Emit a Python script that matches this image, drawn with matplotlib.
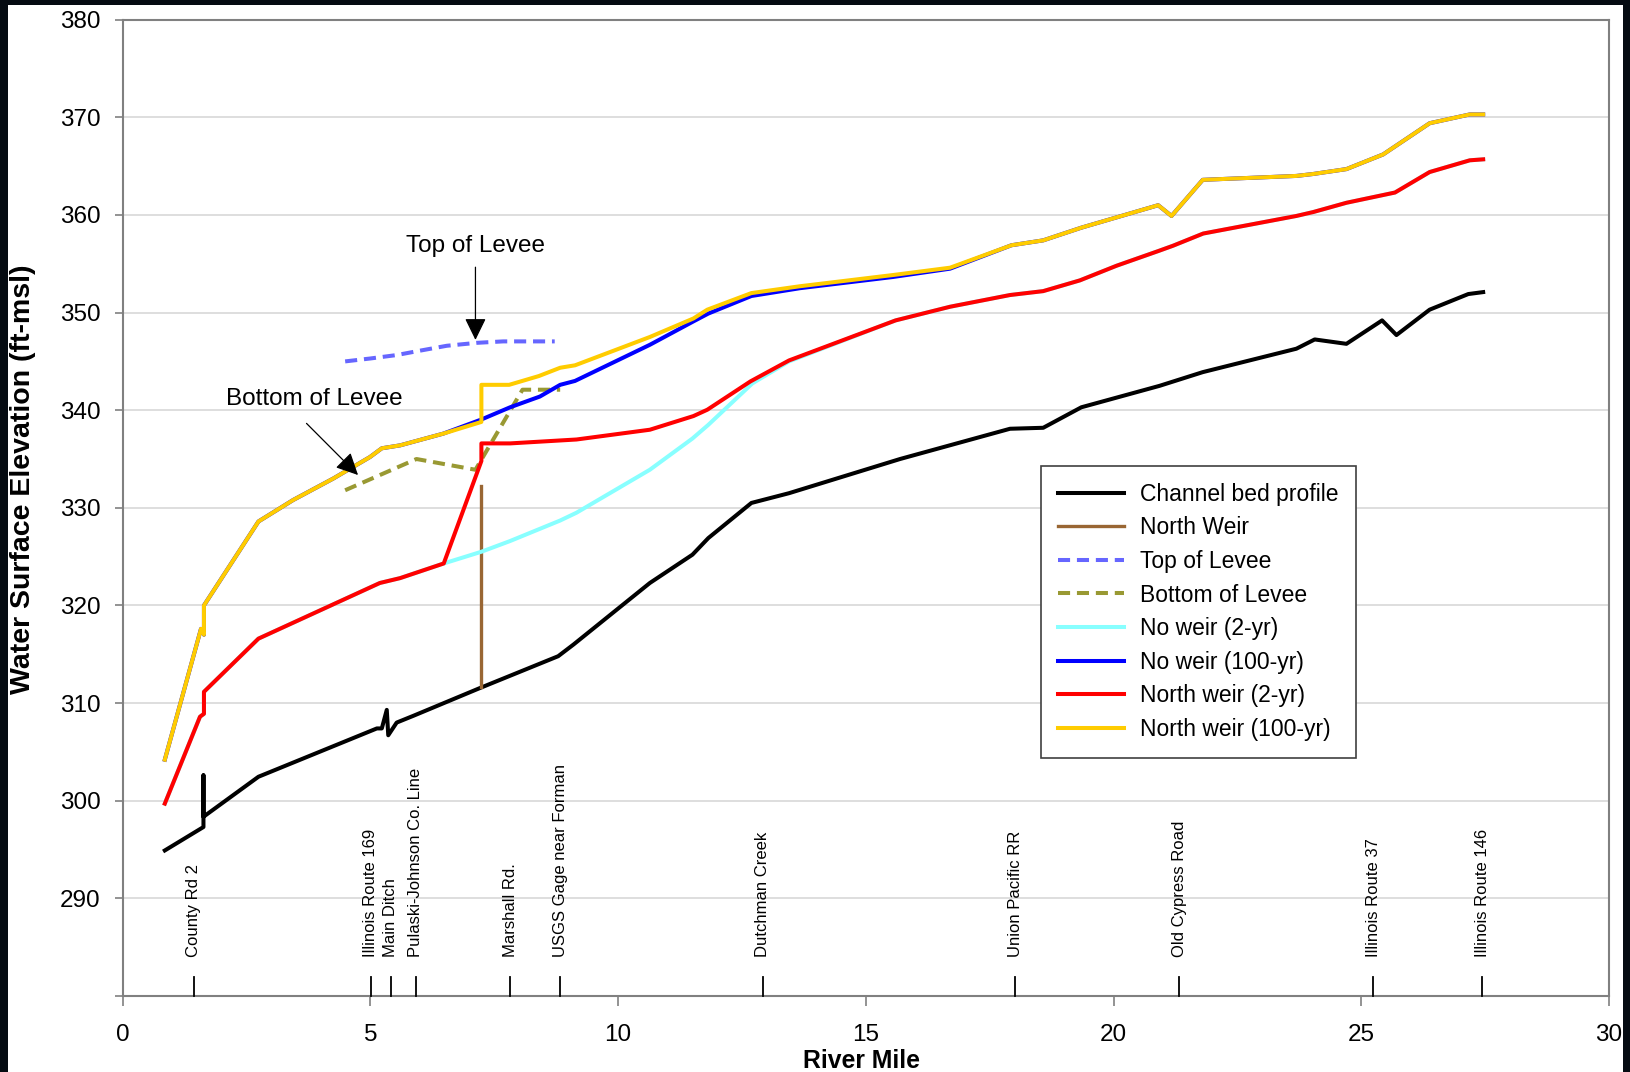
import matplotlib
matplotlib.use("Agg")
import matplotlib.pyplot as plt
from matplotlib.patches import Rectangle

plt.rcParams['font.family'] = ['Liberation Sans', 'DejaVu Sans']

# ---------------- data ----------------
bed_x = [0.85, 1.63, 1.63, 1.63, 2.74, 5.13, 5.23, 5.33, 5.36, 5.53, 5.87, 7.24, 8.79, 9.10,
         10.64, 11.50, 11.82, 12.69, 13.45, 15.69, 17.91, 18.58, 19.35, 20.93, 21.80, 23.69,
         24.06, 24.70, 25.42, 25.71, 26.38, 27.16, 27.46]
bed_y = [294.9, 297.3, 302.6, 298.35, 302.45, 307.4, 307.4, 309.3, 306.7, 308.0, 308.7, 311.6,
         314.8, 316.0, 322.3, 325.2, 326.9, 330.5, 331.5, 335.0, 338.1, 338.2, 340.3, 342.5,
         343.9, 346.3, 347.25, 346.8, 349.2, 347.7, 350.3, 351.9, 352.1]

weir_x = [7.24, 7.24]
weir_y = [311.6, 332.2]

top_levee_x = [4.49, 5.0, 5.53, 6.0, 6.54, 7.14, 7.68, 8.72]
top_levee_y = [345.0, 345.3, 345.65, 346.1, 346.6, 346.9, 347.05, 347.05]

bot_levee_x = [4.49, 5.93, 7.12, 8.07, 8.83]
bot_levee_y = [331.8, 335.0, 333.9, 342.1, 342.1]

nw2_x = [0.85, 1.56, 1.64, 1.64, 2.74, 5.19, 5.60, 6.48, 7.24, 7.82, 8.83, 9.16, 10.64, 11.50,
         11.82, 12.71, 13.45, 15.60, 16.70, 17.91, 18.58, 19.32, 20.06, 20.90, 21.20, 21.81,
         23.69, 24.03, 24.70, 25.68, 26.38, 27.19, 27.46]
nw2_y = [299.7, 308.6, 308.9, 311.15, 316.6, 322.3, 322.8, 324.3, 325.5, 326.6, 328.7, 329.5,
         333.9, 337.1, 338.5, 342.75, 345.0, 349.2, 350.6, 351.8, 352.2, 353.3, 354.8, 356.3,
         356.85, 358.1, 359.9, 360.3, 361.25, 362.3, 364.4, 365.6, 365.7]

n2_x = [0.85, 1.56, 1.64, 1.64, 2.74, 5.19, 5.60, 6.48, 7.24, 7.24, 7.82, 9.16, 10.64, 11.52,
        11.80, 12.67, 13.45, 15.60, 16.70, 17.91, 18.58, 19.32, 20.06, 20.90, 21.20, 21.81,
        23.69, 24.03, 24.70, 25.68, 26.38, 27.19, 27.46]
n2_y = [299.7, 308.6, 308.9, 311.15, 316.6, 322.3, 322.8, 324.3, 334.8, 336.6, 336.6, 337.0,
        338.0, 339.4, 340.05, 342.95, 345.1, 349.2, 350.6, 351.8, 352.2, 353.3, 354.8, 356.3,
        356.85, 358.1, 359.9, 360.3, 361.25, 362.3, 364.4, 365.6, 365.7]

nw100_x = [0.85, 1.58, 1.64, 1.64, 2.74, 3.44, 4.25, 4.99, 5.23, 5.60, 6.47, 7.24, 7.82, 8.42,
           8.83, 9.13, 10.64, 11.52, 11.82, 12.69, 13.67, 15.55, 16.70, 17.94, 18.58, 19.35,
           20.90, 21.17, 21.80, 23.69, 24.03, 24.70, 25.44, 26.38, 27.19, 27.46]
nw100_y = [304.2, 317.6, 317.0, 320.0, 328.6, 330.8, 333.0, 335.2, 336.1, 336.4, 337.6, 339.05,
           340.3, 341.4, 342.6, 343.0, 346.7, 349.1, 349.9, 351.7, 352.5, 353.65, 354.5, 356.9,
           357.4, 358.7, 361.0, 359.9, 363.6, 364.0, 364.2, 364.7, 366.2, 369.4, 370.3, 370.3]

n100_x = [0.85, 1.58, 1.64, 1.64, 2.74, 3.44, 4.25, 4.99, 5.23, 5.60, 6.47, 7.24, 7.24, 7.80,
          8.40, 8.83, 9.13, 10.64, 11.52, 11.80, 12.69, 13.67, 15.55, 16.70, 17.94, 18.58,
          19.35, 20.90, 21.17, 21.80, 23.69, 24.03, 24.70, 25.44, 26.38, 27.19, 27.46]
n100_y = [304.2, 317.6, 317.0, 320.0, 328.6, 330.8, 333.0, 335.2, 336.1, 336.4, 337.6, 338.8,
          342.6, 342.6, 343.5, 344.35, 344.6, 347.5, 349.4, 350.3, 352.0, 352.7, 353.85, 354.6,
          356.9, 357.4, 358.7, 361.0, 359.9, 363.6, 364.0, 364.2, 364.7, 366.2, 369.4, 370.3,
          370.3]

landmark_names = ["County Rd 2", "Illinois Route 169", "Main Ditch", "Pulaski-Johnson Co. Line",
                  "Marshall Rd.", "USGS Gage near Forman", "Dutchman Creek", "Union Pacific RR",
                  "Old Cypress Road", "Illinois Route 37", "Illinois Route 146"]
landmark_miles = [1.43, 5.01, 5.41, 5.92, 7.82, 8.83, 12.92, 18.02, 21.33, 25.24, 27.44]

x_ticks = [0, 5, 10, 15, 20, 25, 30]
y_ticks = [280, 290, 300, 310, 320, 330, 340, 350, 360, 370, 380]
y_ticklabels = ["", "290", "300", "310", "320", "330", "340", "350", "360", "370", "380"]

# ---------------- figure ----------------
W, H = 1630, 1072
fig = plt.figure(figsize=(W / 100, H / 100), dpi=100, facecolor='#050b12')
bg = Rectangle((8 / W, 0), (1623 - 8) / W, 1 - 5 / H, transform=fig.transFigure,
               facecolor='white', edgecolor='none', zorder=-10)
fig.add_artist(bg)

ax = fig.add_axes([122.7 / W, 1 - 995.9 / H, (1609 - 122.7) / W, (995.9 - 19.75) / H])
ax.set_zorder(1)
ax.set_facecolor('white')
ax.set_xlim(0, 30)
ax.set_ylim(280, 380)
ax.set_xticks(x_ticks)
ax.set_yticks(y_ticks)
ax.set_yticklabels(y_ticklabels)
ax.tick_params(axis='both', labelsize=17.5, colors='#808080', labelcolor='black', width=1.2)
ax.tick_params(axis='x', length=7, pad=13)
ax.tick_params(axis='y', length=6, pad=10)
for s in ax.spines.values():
    s.set_color('#808080')
    s.set_linewidth(1.5)
ax.yaxis.grid(True, color='#d4d4d4', linewidth=1.1)
ax.set_axisbelow(True)

lw = 2.9
ax.plot(bed_x, bed_y, color='black', lw=lw, label='Channel bed profile', zorder=3)
ax.plot(weir_x, weir_y, color='#996633', lw=2.4, label='North Weir', zorder=3)
ax.plot(top_levee_x, top_levee_y, color='#6666FF', lw=lw, dashes=(3.0, 1.7), label='Top of Levee', zorder=3)
ax.plot(bot_levee_x, bot_levee_y, color='#999933', lw=lw, dashes=(3.0, 1.7), label='Bottom of Levee', zorder=3)
ax.plot(nw2_x, nw2_y, color='#88FFFF', lw=lw, label='No weir (2-yr)', zorder=3)
ax.plot(nw100_x, nw100_y, color='#0000FF', lw=lw, label='No weir (100-yr)', zorder=3)
ax.plot(n2_x, n2_y, color='#FF0000', lw=lw, label='North weir (2-yr)', zorder=3)
ax.plot(n100_x, n100_y, color='#FFCC00', lw=lw, label='North weir (100-yr)', zorder=3)

# landmarks
for name, m in zip(landmark_names, landmark_miles):
    ax.plot([m, m], [280, 281.9], color='black', lw=1.3, zorder=3, clip_on=False)
    ax.text(m, 284.0, name, rotation=90, ha='center', va='bottom', fontsize=12)

# annotations
ax.annotate('', xy=(7.12, 347.2), xytext=(7.12, 354.65),
            arrowprops=dict(arrowstyle='-|>,head_length=0.45,head_width=0.22', color='black',
                            lw=0.9, mutation_scale=30, shrinkA=0, shrinkB=0))
ax.text(7.13, 356.8, 'Top of Levee', ha='center', va='center', fontsize=17.5)
ax.annotate('', xy=(4.75, 333.36), xytext=(3.71, 338.65),
            arrowprops=dict(arrowstyle='-|>,head_length=0.45,head_width=0.22', color='black',
                            lw=0.9, mutation_scale=30, shrinkA=0, shrinkB=0))
ax.text(3.86, 341.1, 'Bottom of Levee', ha='center', va='center', fontsize=17.5)

leg = ax.legend(loc='upper left', bbox_to_anchor=(1040.6 / W, 1 - 465.7 / H),
                bbox_transform=fig.transFigure, fontsize=16.5, frameon=True, fancybox=False,
                edgecolor='#404040', framealpha=1, handlelength=2.9, handletextpad=0.7,
                labelspacing=0.46, borderpad=0.75, borderaxespad=0)
leg.get_frame().set_linewidth(1.2)

fig.text(23 / W, 1 - 479.7 / H, 'Water Surface Elevation (ft-msl)', rotation=90,
         ha='center', va='center', fontsize=20.5, fontweight='bold')
fig.text(862 / W, 4 / H, 'River Mile', ha='center', va='baseline', fontsize=17.8,
         fontweight='bold')

fig.savefig('out.png', dpi=100, facecolor=fig.get_facecolor())
